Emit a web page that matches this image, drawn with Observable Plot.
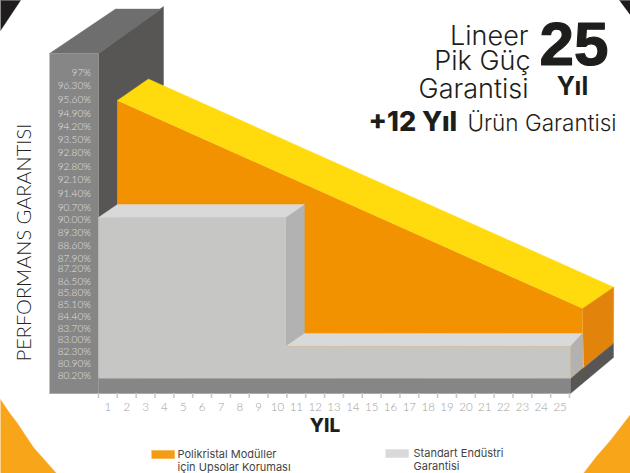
<!DOCTYPE html>
<html lang="tr"><head><meta charset="utf-8">
<style>html,body{margin:0;padding:0;background:#fff}svg{display:block}</style>
<script src="https://cdn.jsdelivr.net/npm/d3@7"></script>
<script src="https://cdn.jsdelivr.net/npm/@observablehq/plot@0.6"></script>
</head><body><script>
// Year axis
const yearLabels = [1,2,3,4,5,6,7,8,9,10,11,12,13,14,15,16,17,18,19,20,21,22,23,24,25];
const yearTicks = [0,1,2,3,4,5,6,7,8,9,10,11,12,13,14,15,16,17,18,19,20,21,22,23,24,25];
// Performance axis: printed text and where it sits on the picture
const perfLabels = ["97%","96.30%","95.60%","94.90%","94.20%","93.50%","92.80%","92.80%","92.10%","91.40%","90.70%","90.00%","89.30%","88.60%","87.90%","87.20%","86.50%","85.80%","85.10%","84.40%","83.70%","83.00%","82.30%","80.90%","80.20%"];
const perfSpots = [97,96.28,95.5,94.75,94.01,93.31,92.56,91.79,91.07,90.31,89.54,88.85,88.13,87.41,86.71,86.13,85.45,84.8,84.14,83.47,82.81,82.22,81.55,80.87,80.2];
// Series
const upsolarYears = [0,24.7];
const upsolarPerf = [94.77,83.23];
const standardYears = [0,9.93,9.93,25];
const standardPerf = [89,89,81.85,81.85];
const floorPerf = 80.07;

const xs = Plot.scale({x:{domain:[0,25],range:[98,569]}});
const ys = Plot.scale({y:{domain:[97,80.2],range:[72.7,375.7]}});
const at = (px,py)=>[xs.invert(px),ys.invert(py)];
const deep = ([x,y],d)=>[x+d,y+0.72*d];       // one depth unit on the oblique axis
const face = (pts,fill)=>Plot.line(pts,{x:d=>d[0],y:d=>d[1],fill,stroke:fill,strokeWidth:0.4});
const edge = (pts,stroke,w=1)=>Plot.line(pts,{x:d=>d[0],y:d=>d[1],stroke,strokeWidth:w});

const uA=[upsolarYears[0],upsolarPerf[0]], uB=[upsolarYears[1],upsolarPerf[1]];
const U1=deep(uA,1), U2=deep(uB,1);
const uD=1.65;
const [s0,s1,s2]=standardYears.map((x,i)=>[x,standardPerf[i]]);

const C={front:"#868686",top:"#6f6e6e",dark:"#575654",yellow:"#ffdb0d",orange:"#f39200",orangeSide:"#e2840c",
  gray:"#c6c6c5",grayTop:"#d9d9d9",graySide:"#b2b2b2",deco:"#f9a51a",corner:"#1e1c1d"};
const FONT="Inter, 'Noto Sans', sans-serif", THIN="Lato, 'Open Sans', sans-serif";
const T=(text,px,py,o={})=>Plot.text([text],{x:xs.invert(px),y:ys.invert(py),text:d=>d,fontFamily:FONT,fill:"#1d1d1b",...o});

const plot = Plot.plot({
  width:630,height:473,margin:0,
  x:{domain:[0,25],range:[98,569],axis:null},
  y:{domain:[97,80.2],range:[72.7,375.7],axis:null},
  style:{background:"#fff"},
  marks:[
    // page decoration
    face([at(0,0),at(20,0),at(0,30)],C.corner),
    face([at(619,0),at(630,0),at(630,15)],C.corner),
    face([at(0,399),at(8,411),at(17,423),at(33,447),at(56,473),at(0,473)],C.deco),
    face([at(630,414),at(610,440),at(596,456),at(583,473),at(630,473)],C.deco),
    // back wall
    face([at(98,53),at(163,6),at(163,85),at(117,100),at(117,205),at(98,217)],C.dark),
    face([at(49,53),at(115,8.5),at(161,8.5),at(98,53)],C.top),
    face([at(49,53),at(98,53),at(98,393),at(49,393)],C.front),
    face([at(98,377),at(570,377),at(570,393),at(98,393)],C.front),
    // Upsolar block
    face([U1,U2,at(xs.apply(U2[0]),378),at(xs.apply(U1[0]),378)],C.orange),
    face([U1,deep(U1,uD),deep(U2,uD),U2],C.yellow),
    face([U2,deep(U2,uD),at(613,343),at(583,367)],C.orangeSide),
    face([at(570,378),at(613,343),at(613,357),at(570,393)],C.dark),
    // Standard warranty block
    face([s1,deep(s1,1),deep(s2,1),s2],C.graySide),
    face([s0,deep(s0,1),deep(s1,1),s1],C.grayTop),
    face([s2,deep(s2,1),at(582,333),at(570,346)],C.grayTop),
    face([at(570,346),at(582,333),at(582,367),at(570,378)],C.graySide),
    face([s0,s1,s2,at(570,346),at(570,378),[0,floorPerf]],C.gray),
    edge([s0,s1,s2],"#d8ccb8",0.8),
    edge([[0,floorPerf],at(570,378)],"#a3a3a3",1),
    // axes
    Plot.ruleX(yearTicks,{x:d=>d,y1:ys.invert(393),y2:ys.invert(398),stroke:"#c8c8c8",strokeWidth:1.6}),
    Plot.text(yearLabels,{x:d=>d-0.5,y:ys.invert(407),text:d=>String(d),fontFamily:THIN,fontWeight:300,fontSize:11.5,fill:"#9d9d9c"}),
    Plot.text(perfLabels,{x:xs.invert(90.5),y:(d,i)=>perfSpots[i],text:d=>d,textAnchor:"end",fontFamily:THIN,fontWeight:300,fontSize:10,fill:"#e0e0e0"}),
    T("PERFORMANS GARANTISI",24,242,{rotate:-90,fontFamily:THIN,fontWeight:300,fontSize:20,fill:"#222"}),
    T("YIL",324.5,425,{fontWeight:800,fontSize:19}),
    // headline
    T("Lineer",528,36,{textAnchor:"end",fontSize:27,fontWeight:300}),
    T("Pik Güç",530,61,{textAnchor:"end",fontSize:27,fontWeight:300}),
    T("Garantisi",528,89,{textAnchor:"end",fontSize:27,fontWeight:300}),
    T("25",573.5,45,{fontSize:62,fontFamily:"'Liberation Sans', Arial, sans-serif",fontWeight:700,stroke:"#1d1d1b",strokeWidth:1.2}),
    T("Yıl",572,86,{fontSize:25,fontWeight:700}),
    T("+12 Yıl",368,122,{textAnchor:"start",fontSize:27,fontWeight:800}),
    T("Ürün Garantisi",616,123,{textAnchor:"end",fontSize:22.5,fontWeight:300}),
    // legend
    face([at(151,450),at(174,450),at(174,458),at(151,458)],"#f59c13"),
    face([at(385,449),at(408,449),at(408,457),at(385,457)],"#d9d9d9"),
    T("Polikristal Modüller",177,454,{textAnchor:"start",fontSize:11,fill:"#444"}),
    T("için Upsolar Koruması",177,466.5,{textAnchor:"start",fontSize:11,fill:"#444"}),
    T("Standart Endüstri",413,453,{textAnchor:"start",fontSize:11,fill:"#444"}),
    T("Garantisi",413,465.5,{textAnchor:"start",fontSize:11,fill:"#444"})
  ]
});
document.body.appendChild(plot);
</script></body></html>
